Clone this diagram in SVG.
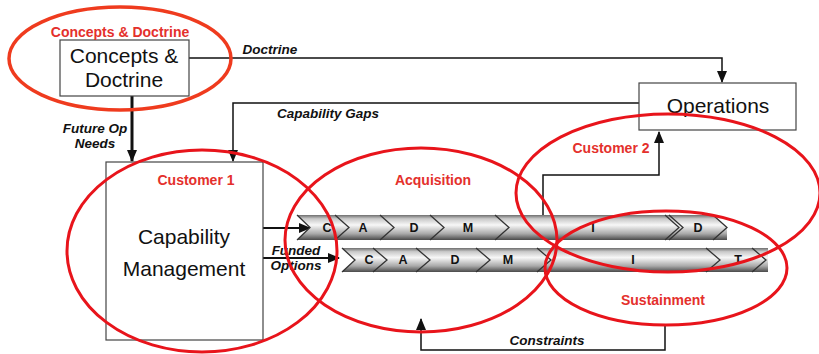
<svg xmlns="http://www.w3.org/2000/svg" width="819" height="354" viewBox="0 0 819 354">
<style>
.box{fill:#fff;stroke:#444;stroke-width:1.2}
.big{font-family:"Liberation Sans",Arial,sans-serif;font-size:21px;fill:#111;text-anchor:middle}
.red{font-family:"Liberation Sans",Arial,sans-serif;font-size:14px;font-weight:bold;fill:#e4302c;text-anchor:middle}
.lbl{font-family:"Liberation Sans",Arial,sans-serif;font-size:13.5px;font-weight:bold;font-style:italic;fill:#111;text-anchor:middle}
.seg{font-family:"Liberation Sans",Arial,sans-serif;font-size:12.5px;font-weight:bold;fill:#111;text-anchor:middle}
.ln{fill:none;stroke:#111;stroke-width:1.5}
.chev{fill:none;stroke:#333;stroke-width:1.3}
.ell{fill:none;stroke:#e8141b;stroke-width:3}
</style>
<defs>
<linearGradient id="bar" x1="0" y1="0" x2="0" y2="1">
<stop offset="0" stop-color="#6e6e6e"/>
<stop offset="0.15" stop-color="#c8c8c8"/>
<stop offset="0.4" stop-color="#f7f7f7"/>
<stop offset="0.75" stop-color="#a9a9a9"/>
<stop offset="1" stop-color="#4a4a4a"/>
</linearGradient>
<marker id="ah" markerWidth="12" markerHeight="10" refX="11" refY="5" orient="auto" markerUnits="userSpaceOnUse">
<path d="M0,0 L12,5 L0,10 z" fill="#111"/>
</marker>
</defs>

<g id="connectors">
<polyline class="ln" points="189,58 722,58 722,82" marker-end="url(#ah)"/>
<text class="lbl" x="270" y="54">Doctrine</text>
<polyline class="ln" points="639,103 233,103 233,161" marker-end="url(#ah)"/>
<text class="lbl" x="328" y="118">Capability Gaps</text>
<line class="ln" x1="132" y1="96" x2="132" y2="161" style="stroke-width:3" marker-end="url(#ah)"/>
<text class="lbl" x="95" y="133">Future Op</text>
<text class="lbl" x="95" y="148">Needs</text>
<line class="ln" x1="263" y1="228" x2="310" y2="228" style="stroke-width:2" marker-end="url(#ah)"/>
<line class="ln" x1="263" y1="258" x2="339" y2="258" style="stroke-width:2" marker-end="url(#ah)"/>
<text class="lbl" x="296" y="255">Funded</text>
<text class="lbl" x="296" y="270">Options</text>
<polyline class="ln" points="543,215 543,175 659,175 659,132" marker-end="url(#ah)"/>
<polyline class="ln" points="665,325 665,350 421,350 421,319" marker-end="url(#ah)"/>
<text class="lbl" x="547" y="345">Constraints</text>
</g>

<g id="concepts">
<rect class="box" x="60" y="40" width="129" height="56"/>
<text class="big" x="124" y="63">Concepts &amp;</text>
<text class="big" x="124" y="87">Doctrine</text>
</g>

<g id="operations">
<rect class="box" x="639" y="83" width="157" height="47"/>
<text class="big" x="718" y="113">Operations</text>
</g>

<g id="capability">
<rect class="box" x="106" y="162" width="157" height="178"/>
<text class="big" x="184" y="244">Capability</text>
<text class="big" x="184" y="276">Management</text>
</g>

<g id="acq-bar">
<polygon points="297,215 713,215 727,227.5 727,240 297,240 310,227.5" fill="url(#bar)"/>
<polyline class="chev" points="335,215 349,227.5 335,240"/>
<polyline class="chev" points="380,215 394,227.5 380,240"/>
<polyline class="chev" points="430,215 444,227.5 430,240"/>
<polyline class="chev" points="495,215 509,227.5 495,240"/>
<polyline class="chev" points="665,215 679,227.5 665,240"/>
<polyline class="chev" points="669,215 683,227.5 669,240"/>
<polyline class="chev" points="713,215 727,227.5 713,240"/>
<polyline class="chev" points="297,215 310,227.5 297,240"/>
<text class="seg" x="327" y="232">C</text>
<text class="seg" x="363" y="232">A</text>
<text class="seg" x="414" y="232">D</text>
<text class="seg" x="468" y="232">M</text>
<text class="seg" x="593" y="232">I</text>
<text class="seg" x="698" y="232">D</text>
</g>

<g id="sus-bar">
<polygon points="342,248 768,248 768,272 342,272 355,260" fill="url(#bar)"/>
<polyline class="chev" points="342,248 355,260 342,272"/>
<polyline class="chev" points="373,248 387,260 373,272"/>
<polyline class="chev" points="416,248 430,260 416,272"/>
<polyline class="chev" points="476,248 490,260 476,272"/>
<polyline class="chev" points="537,248 551,260 537,272"/>
<polyline class="chev" points="706,248 720,260 706,272"/>
<polyline class="chev" points="752,248 766,260 752,272"/>
<text class="seg" x="369" y="264">C</text>
<text class="seg" x="403" y="264">A</text>
<text class="seg" x="455" y="264">D</text>
<text class="seg" x="508" y="264">M</text>
<text class="seg" x="633" y="264">I</text>
<text class="seg" x="738" y="264">T</text>
</g>

<g id="group-concepts">
<ellipse class="ell" cx="120" cy="58.5" rx="111" ry="51.5" style="stroke:#ef3b1e;stroke-width:3.5"/>
<text class="red" x="120" y="37">Concepts &amp; Doctrine</text>
</g>
<g id="group-customer1">
<ellipse class="ell" cx="202" cy="251" rx="135" ry="101"/>
<text class="red" x="196" y="185">Customer 1</text>
</g>
<g id="group-acquisition">
<ellipse class="ell" cx="421" cy="240" rx="136" ry="92"/>
<text class="red" x="433" y="185">Acquisition</text>
</g>
<g id="group-customer2">
<ellipse class="ell" cx="668" cy="193" rx="152" ry="79"/>
<text class="red" x="611" y="153">Customer 2</text>
</g>
<g id="group-sustainment">
<ellipse class="ell" cx="666" cy="268" rx="121" ry="57"/>
<text class="red" x="663" y="305">Sustainment</text>
</g>
</svg>
